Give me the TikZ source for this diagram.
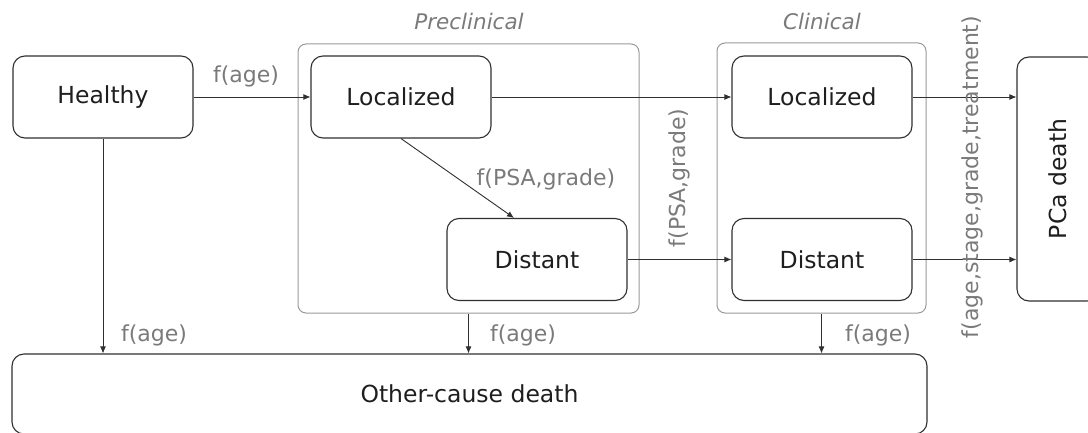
\documentclass[tikz,border=0pt]{standalone}
\usepackage{fontspec}
\setmainfont{DejaVu Sans}
\usetikzlibrary{arrows.meta}
\definecolor{boxline}{HTML}{303030}
\definecolor{boxtext}{HTML}{1E1E1E}
\definecolor{labeltext}{HTML}{7A7A7A}
\definecolor{groupline}{HTML}{9A9A9A}
\tikzset{
  statefont/.style={text=boxtext, font=\fontsize{23.5}{28}\selectfont},
  state/.style={draw=boxline, line width=1.1pt, rounded corners=12pt, inner sep=0pt, statefont},
  group/.style={draw=groupline, line width=1pt, rounded corners=8pt, inner sep=0pt},
  grouptitle/.style={text=labeltext, font=\fontsize{21.5}{25}\selectfont\itshape, anchor=base, inner sep=0pt},
  rate/.style={text=labeltext, font=\fontsize{22}{26}\selectfont, inner sep=0pt},
  flow/.style={draw=boxline, line width=0.9pt, -{Latex[length=7pt,width=6pt]}}
}
\begin{document}
\begin{tikzpicture}[x=1pt,y=1pt]
\useasboundingbox (0,0) rectangle (1088,432);

% stage groups
\node[group, minimum width=341pt, minimum height=269pt] (prec) at (468.5,253.5) {};
\node[group, minimum width=209pt, minimum height=270pt] (clin) at (821.5,254) {};
\node[grouptitle] (prectitle) at (469,402) {Preclinical};
\node[grouptitle] (clintitle) at (822,402) {Clinical};

% states
\node[state, minimum width=180pt, minimum height=82pt] (healthy) at (103,335) {Healthy};
\node[state, minimum width=180pt, minimum height=82pt] (ploc) at (401,335) {Localized};
\node[state, minimum width=180pt, minimum height=82pt] (pdist) at (537,172.5) {Distant};
\node[state, minimum width=180pt, minimum height=82pt] (cloc) at (822,335) {Localized};
\node[state, minimum width=180pt, minimum height=82pt] (cdist) at (822,172.5) {Distant};
\node[state, minimum width=82pt, minimum height=244pt] (pca) at (1058,253) {};
\node[statefont, inner sep=0pt, rotate=90] (pcatext) at (pca.center) {PCa death};
\node[state, minimum width=915pt, minimum height=80pt] (other) at (469.5,38) {Other-cause death};

% transitions
\draw[flow] (healthy.east) -- (ploc.west);
\draw[flow] (ploc.east) -- (cloc.west);
\draw[flow] (ploc.south) -- ([xshift=-23pt]pdist.north);
\draw[flow] (pdist.east) -- (cdist.west);
\draw[flow] (cloc.east) -- (cloc.east -| pca.west);
\draw[flow] (cdist.east) -- (cdist.east -| pca.west);
\draw[flow] (healthy.south) -- (healthy.south |- other.north);
\draw[flow] (prec.south) -- (prec.south |- other.north);
\draw[flow] (clin.south) -- (clin.south |- other.north);

% transition rates
\node[rate, anchor=base] (r1) at (246,349) {f(age)};
\node[rate, anchor=base] (r2) at (546,247) {f(PSA,grade)};
\node[rate, rotate=90] (r3) at (679,254) {f(PSA,grade)};
\node[rate, rotate=90] (r4) at (972,255) {f(age,stage,grade,treatment)};
\node[rate, anchor=base] (r5) at (154,91) {f(age)};
\node[rate, anchor=base] (r6) at (523,91) {f(age)};
\node[rate, anchor=base] (r7) at (878,91) {f(age)};
\end{tikzpicture}
\end{document}
